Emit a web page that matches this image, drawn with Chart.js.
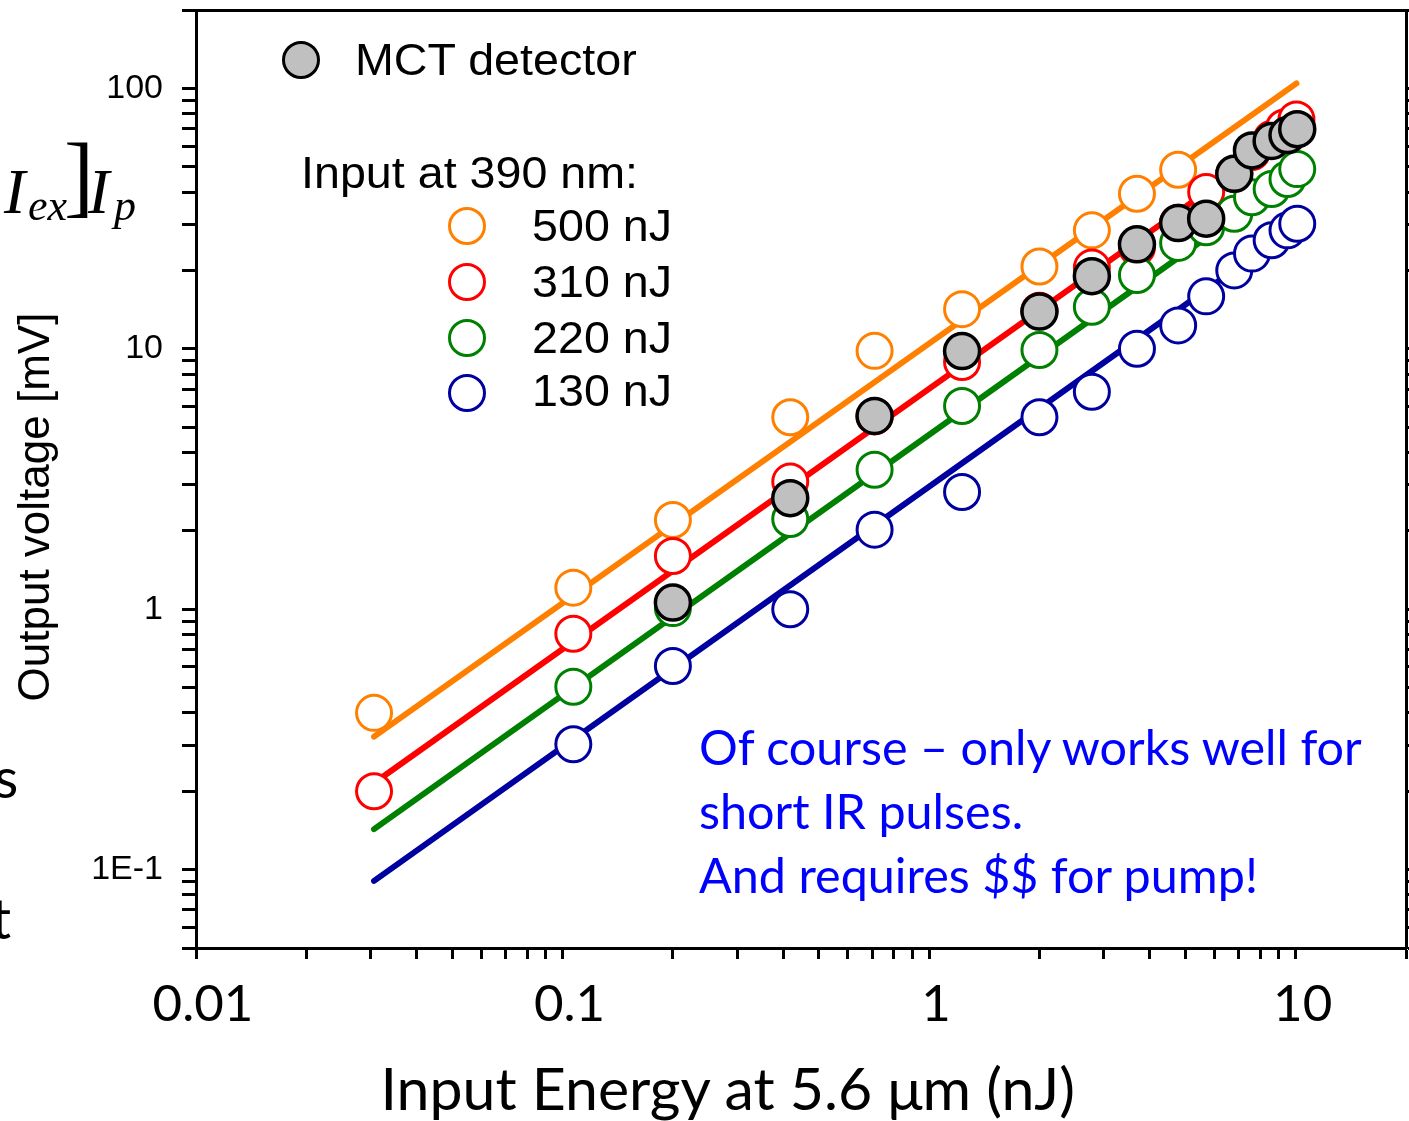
<!DOCTYPE html>
<html><head><meta charset="utf-8">
<script src="https://cdn.jsdelivr.net/npm/chart.js@4/dist/chart.umd.min.js"></script>
<style>
html,body{margin:0;padding:0;background:#fff;}
#wrap{position:relative;width:1409px;height:1121px;overflow:hidden;background:#fff;}
#c{position:absolute;left:0;top:0;}
.t{position:absolute;white-space:nowrap;line-height:1;}
.sans{font-family:"Liberation Sans",Arial,sans-serif;}
.cal{font-family:Lato,"Open Sans",sans-serif;}
.ser{font-family:"Liberation Serif","Times New Roman",serif;font-style:italic;}
.mk{position:absolute;box-sizing:border-box;border-radius:50%;}
</style></head><body>
<div id="wrap"><canvas id="c" width="1409" height="1121"></canvas></div>
<script>
// ---- data ----
const xMCT = [0.2, 0.418, 0.71, 1.23, 2.0, 2.78, 3.69, 4.78, 5.7, 6.8, 7.6, 8.6, 9.5, 10.1];
const yMCT = [1.06, 2.67, 5.52, 9.8, 13.9, 19.0, 25.2, 30.4, 31.6, 47, 57.8, 62.8, 66.2, 69.7];

const x500 = [0.0306, 0.107, 0.2, 0.418, 0.71, 1.23, 2.0, 2.78, 3.69, 4.78];
const y500 = [0.40, 1.21, 2.2, 5.46, 9.82, 14.2, 20.7, 28.5, 39.4, 48.7];

const x310 = [0.0306, 0.107, 0.2, 0.418, 0.71, 1.23, 2.0, 2.78, 3.69, 4.78, 5.7, 6.8, 7.6, 8.6, 9.3, 10.05];
const y310 = [0.20, 0.805, 1.6, 3.09, 5.5, 8.9, 14.0, 20.5, 24.5, 30.5, 40, 47, 57, 64, 70.8, 76];

const x220 = [0.107, 0.2, 0.418, 0.71, 1.23, 2.0, 2.78, 3.69, 4.78, 5.7, 6.8, 7.6, 8.6, 9.5, 10.1];
const y220 = [0.504, 1.01, 2.22, 3.43, 6.03, 9.89, 14.5, 19.2, 25.5, 29.3, 33, 38.2, 41.1, 44.9, 49];

const x130 = [0.107, 0.2, 0.418, 0.71, 1.23, 2.0, 2.78, 3.69, 4.78, 5.7, 6.8, 7.6, 8.6, 9.5, 10.1];
const y130 = [0.303, 0.605, 1.0, 2.02, 2.82, 5.46, 6.84, 10.0, 12.3, 15.9, 20.0, 23.2, 26.1, 28.5, 30.2];

// linear fits (end points)
const fitX   = [0.0306, 10.05];
const fit500 = [0.324, 104.5];
const fit310 = [0.215, 70.5];
const fit220 = [0.143, 47];
const fit130 = [0.0905, 29.7];

const xMajorTicks = [0.01, 0.1, 1, 10];
const xTickLabels = ['0.01', '0.1', '1', '10'];
const yMajorTicks = [0.1, 1, 10, 100];
const yTickLabels = ['1E-1', '1', '10', '100'];

const xRange = [0.01, 20];
const yRange = [0.05, 200];

// ---- helpers ----
const pts = (xs, ys) => xs.map((x, i) => ({x: x, y: ys[i]}));
function decadeTicks(min, max) {
  const out = [];
  for (let e = Math.floor(Math.log10(min)) - 1; e <= Math.ceil(Math.log10(max)); e++) {
    for (let m = 1; m <= 9; m++) {
      const v = +(m * Math.pow(10, e)).toPrecision(6);
      if (v >= min * 0.9999 && v <= max * 1.0001) out.push({value: v});
    }
  }
  return out;
}
function labelFor(majors, labels) {
  return function (value) {
    const i = majors.findIndex(v => Math.abs(Math.log10(v / value)) < 1e-6);
    return i >= 0 ? labels[i] : '';
  };
}
function fixSize(prop, size) {
  return function (s) {
    s[prop] = size;
    s.paddingLeft = 0; s.paddingRight = 0; s.paddingTop = 0; s.paddingBottom = 0;
  };
}
const COL = {o: '#FF8000', r: '#FF0000', g: '#008000', b: '#0000A0', gray: '#C0C0C0'};

const circ = (label, xs, ys, col, order) => ({
  label: label, data: pts(xs, ys), showLine: false,
  pointRadius: 17.5, pointHoverRadius: 17.5, pointBorderWidth: 3, borderWidth: 3,
  pointBackgroundColor: '#FFFFFF', pointBorderColor: col, borderColor: col, backgroundColor: '#FFFFFF',
  order: order, clip: false
});
const fit = (ys, col) => ({
  label: 'fit', data: pts(fitX, ys), showLine: true, pointRadius: 0, pointHoverRadius: 0,
  borderColor: col, borderWidth: 6, borderCapStyle: 'round', tension: 0, fill: false, order: 20
});

new Chart(document.getElementById('c'), {
  type: 'scatter',
  data: {
    datasets: [
      fit(fit500, COL.o), fit(fit310, COL.r), fit(fit220, COL.g), fit(fit130, COL.b),
      circ('500 nJ', x500, y500, COL.o, 4),
      circ('310 nJ', x310, y310, COL.r, 3),
      circ('220 nJ', x220, y220, COL.g, 2),
      circ('130 nJ', x130, y130, COL.b, 1),
      {label: 'MCT detector', data: pts(xMCT, yMCT), showLine: false,
       pointRadius: 17.5, pointHoverRadius: 17.5, pointBorderWidth: 3.5, borderWidth: 3.5,
       pointBackgroundColor: COL.gray, pointBorderColor: '#000', backgroundColor: COL.gray, borderColor: '#000',
       order: 0, clip: false}
    ]
  },
  options: {
    responsive: false, animation: false, devicePixelRatio: 1,
    layout: {padding: 0, autoPadding: false},
    plugins: {legend: {display: false}, tooltip: {enabled: false}},
    scales: {
      x: {
        type: 'logarithmic', position: 'bottom', min: xRange[0], max: xRange[1],
        afterBuildTicks: s => { s.ticks = decadeTicks(xRange[0], xRange[1]); },
        afterFit: fixSize('height', 173),
        border: {display: true, width: 3, color: '#000'},
        grid: {display: true, drawOnChartArea: false, drawTicks: true, tickLength: 11, tickWidth: 3, tickColor: '#000'},
        ticks: {callback: labelFor(xMajorTicks, xTickLabels), autoSkip: false, maxRotation: 0, minRotation: 0,
                color: '#000', font: {family: 'Lato', size: 51}, padding: 15, labelOffset: 7}
      },
      x2: {
        type: 'logarithmic', position: 'top', min: xRange[0], max: xRange[1],
        afterFit: fixSize('height', 10),
        border: {display: true, width: 3, color: '#000'},
        grid: {display: true, drawOnChartArea: false, drawTicks: false},
        ticks: {display: false}
      },
      y: {
        type: 'logarithmic', position: 'left', min: yRange[0], max: yRange[1],
        afterBuildTicks: s => { s.ticks = decadeTicks(yRange[0], yRange[1]); },
        afterFit: fixSize('width', 196),
        border: {display: true, width: 3, color: '#000'},
        grid: {display: true, drawOnChartArea: false, drawTicks: true, tickLength: 14, tickWidth: 3, tickColor: '#000'},
        ticks: {callback: labelFor(yMajorTicks, yTickLabels), autoSkip: false, color: '#000',
                font: {family: 'Liberation Sans', size: 34}, padding: 19}
      },
      y2: {
        type: 'logarithmic', position: 'right', min: yRange[0], max: yRange[1],
        afterBuildTicks: s => { s.ticks = decadeTicks(yRange[0], yRange[1]); },
        afterFit: fixSize('width', 3),
        border: {display: true, width: 3, color: '#000'},
        grid: {display: true, drawOnChartArea: false, drawTicks: true, tickLength: 8, tickWidth: 3, tickColor: '#000'},
        ticks: {display: false}
      }
    }
  }
});

// ---- text overlays (real DOM text) ----
const wrap = document.getElementById('wrap');
const K = {sans: 0.8465, cal: 0.887, ser: 0.8375};
function txt(s, cls, left, baseline, size, color, extra) {
  const d = document.createElement('div');
  d.className = 't ' + cls;
  d.textContent = s;
  d.style.left = left + 'px';
  d.style.top = (baseline - K[cls] * size) + 'px';
  d.style.fontSize = size + 'px';
  d.style.color = color || '#000';
  if (extra) Object.assign(d.style, extra);
  wrap.appendChild(d);
  return d;
}
function marker(cx, cy, fill, stroke, bw) {
  const d = document.createElement('div');
  d.className = 'mk';
  d.style.left = (cx - 19) + 'px'; d.style.top = (cy - 19) + 'px';
  d.style.width = '38px'; d.style.height = '38px';
  d.style.background = fill; d.style.border = bw + 'px solid ' + stroke;
  wrap.appendChild(d);
}
const sx = {transform: 'scaleX(1.06)', transformOrigin: 'left center'};
// legend
marker(300.6, 59.7, COL.gray, '#000', 3.5);
txt('MCT detector', 'sans', 355, 75.5, 44, '#000', sx);
txt('Input at 390 nm:', 'sans', 301, 187.8, 44, '#000', sx);
const legRows = [['500 nJ', COL.o, 225.7, 241], ['310 nJ', COL.r, 281.5, 297.3], ['220 nJ', COL.g, 337.6, 352.8], ['130 nJ', COL.b, 393, 406.6]];
legRows.forEach(r => { marker(467, r[2], '#FFFFFF', r[1], 3); txt(r[0], 'sans', 532, r[3], 44, '#000', sx); });

// axis titles
const yt = document.createElement('div');
yt.className = 't sans'; yt.textContent = 'Output voltage [mV]';
Object.assign(yt.style, {left: '34px', top: '507px', fontSize: '44px', color: '#000', transform: 'translate(-50%,-50%) rotate(-90deg)'});
wrap.appendChild(yt);
const xt = txt('Input Energy at 5.6 \u03BCm (nJ)', 'cal', 0, 1110, 59, '#000');
xt.style.left = (728 - xt.offsetWidth / 2) + 'px';

// annotation
txt('Of course \u2013 only works well for', 'cal', 699, 765, 48.5, '#0000FF');
txt('short IR pulses.', 'cal', 699, 829, 48.5, '#0000FF');
txt('And requires $$ for pump!', 'cal', 699, 893, 48.5, '#0000FF');

// stray slide text at the left edge
txt('I', 'ser', 4, 214, 64);
txt('ex', 'ser', 28, 221, 44);
txt(']', 'ser', 64, 206, 90, '#000', {fontStyle: 'normal'});
txt('I', 'ser', 88, 214, 64);
txt('p', 'ser', 114, 221, 44);
txt('s', 'cal', -6, 799, 56);
txt('t', 'cal', -9, 940, 56);
</script>
</body></html>
